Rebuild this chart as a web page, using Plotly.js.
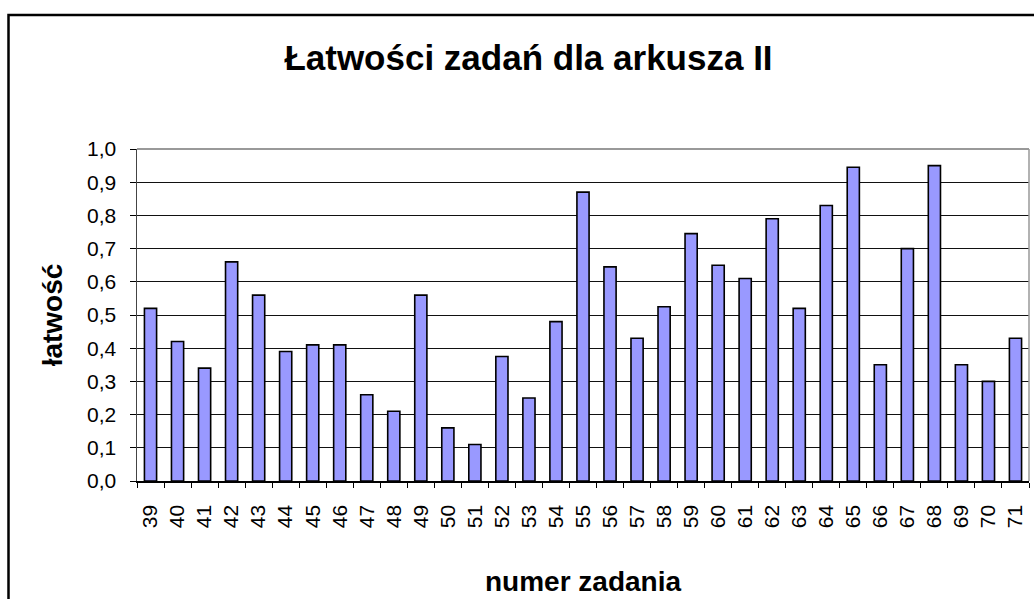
<!DOCTYPE html>
<html>
<head>
<meta charset="utf-8">
<script src="https://cdn.plot.ly/plotly-3.0.1.min.js"></script>
<style>html,body{margin:0;padding:0;background:#fff;}#chart{width:1034px;height:599px;}</style>
</head>
<body>
<div id="chart"></div>
<script>
const categories = ['39','40','41','42','43','44','45','46','47','48','49','50','51','52','53','54','55','56','57','58','59','60','61','62','63','64','65','66','67','68','69','70','71'];
const latwosc = [0.52,0.42,0.34,0.66,0.56,0.39,0.41,0.41,0.26,0.21,0.56,0.16,0.11,0.375,0.25,0.48,0.87,0.645,0.43,0.525,0.745,0.65,0.61,0.79,0.52,0.83,0.945,0.35,0.70,0.95,0.35,0.30,0.43];
const yTicks = [0,0.1,0.2,0.3,0.4,0.5,0.6,0.7,0.8,0.9,1.0];

const FONT = '"Liberation Sans", Arial, sans-serif';
const L = 137, R = 1029, T = 149, B = 481, W = 1034, H = 599;
const pw = R - L, ph = B - T;

const trace = {
  type: 'bar',
  x: categories,
  y: latwosc,
  marker: {color: '#9999FF', line: {color: '#000000', width: 1.6}},
  hoverinfo: 'x+y'
};

const layout = {
  width: W, height: H,
  margin: {l: L, r: W - R, t: T, b: H - B, pad: 0},
  paper_bgcolor: '#ffffff',
  plot_bgcolor: '#ffffff',
  separators: ', ',
  bargap: 0.55,
  showlegend: false,
  font: {family: FONT, color: '#000'},
  title: {
    text: 'Łatwości zadań dla arkusza II',
    font: {family: FONT, size: 35, color: '#000', weight: 'bold'},
    xref: 'container', yref: 'container',
    x: 528.5 / W, y: 1 - 58 / H, xanchor: 'center', yanchor: 'middle'
  },
  xaxis: {
    type: 'category',
    tickangle: -90,
    tickson: 'boundaries',
    ticks: 'outside', ticklen: 5, tickcolor: '#000', tickwidth: 1,
    tickfont: {family: FONT, size: 21, color: '#000'},
    ticklabelstandoff: 14,
    showline: true, linecolor: '#000', linewidth: 1.5,
    showgrid: false, zeroline: false,
    automargin: false,
    title: {text: 'numer zadania', font: {family: FONT, size: 28, color: '#000', weight: 'bold'}, standoff: 44}
  },
  yaxis: {
    range: [0, 1],
    tickvals: yTicks,
    tickformat: '.1f',
    ticks: 'outside', ticklen: 6, tickcolor: '#000', tickwidth: 1,
    tickfont: {family: FONT, size: 21, color: '#000'},
    ticklabelstandoff: 9,
    showline: true, linecolor: '#444', linewidth: 1.5,
    showgrid: true, gridcolor: '#111', gridwidth: 1,
    zeroline: false,
    automargin: false,
    title: {text: 'łatwość', font: {family: FONT, size: 28, color: '#000', weight: 'bold'}, standoff: 16}
  },
  shapes: [
    {type: 'line', xref: 'paper', yref: 'paper', x0: 0, x1: 1, y0: 1, y1: 1, line: {color: '#999', width: 2}, layer: 'above'},
    {type: 'line', xref: 'paper', yref: 'paper', x0: 1, x1: 1, y0: 0, y1: 1, line: {color: '#999', width: 1.5}, layer: 'above'},
    {type: 'rect', xref: 'paper', yref: 'paper',
     x0: (8.5 - L) / pw, x1: (1060 - L) / pw,
     y0: (B - 640) / ph, y1: (B - 15) / ph,
     line: {color: '#000', width: 2.5}, fillcolor: 'rgba(0,0,0,0)', layer: 'above'}
  ]
};

Plotly.newPlot('chart', [trace], layout, {displayModeBar: false, responsive: false, staticPlot: true});
</script>
</body>
</html>
